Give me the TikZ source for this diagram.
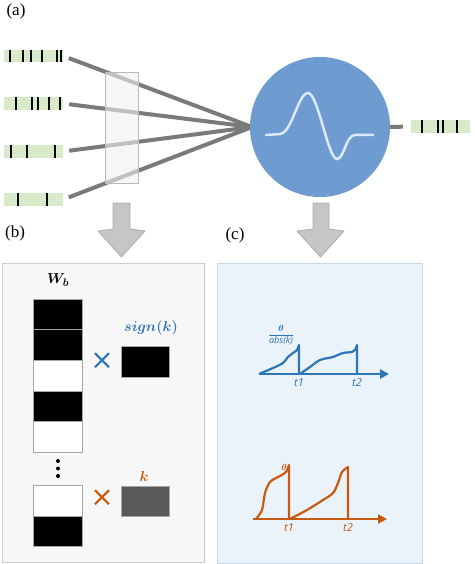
\documentclass[tikz,border=0pt]{standalone}
\usepackage{amsmath,bm}
\usepackage{fontspec}
\setmainfont{Liberation Serif}
\newfontfamily\plotfont{Open Sans}
\newfontfamily\crossfont{DejaVu Sans}[Scale=1]
\usetikzlibrary{arrows.meta}
\definecolor{neuronblue}{RGB}{110,155,208}
\definecolor{waveblue}{RGB}{220,233,248}
\definecolor{kblue}{RGB}{46,117,182}
\definecolor{korange}{RGB}{197,90,17}
\definecolor{spikegreen}{RGB}{217,234,203}
\definecolor{wiregray}{RGB}{122,122,122}
\definecolor{panelgray}{RGB}{247,247,247}
\definecolor{panelblue}{RGB}{234,242,250}
\tikzset{
  train/.style={fill=spikegreen,inner sep=0pt,minimum width=59pt,minimum height=12.5pt},
  spike/.style={line width=2pt,black},
  wire/.style={line width=4pt,wiregray},
  blockarrow/.style={fill=gray!45,draw=gray!65,line width=0.8pt,line join=round},
  panel/.style={inner sep=0pt,line width=1pt},
  cell/.style={draw=gray!70,line width=1pt,inner sep=0pt,minimum width=49pt,minimum height=30.6pt},
  tag/.style={font=\fontsize{17}{19}\selectfont},
  axislbl/.style={font=\plotfont\itshape\fontsize{11}{12}\selectfont,inner sep=1pt},
  trace/.style={line width=2.2pt,line join=round},
  times/.style={font=\crossfont\fontsize{28}{28}\selectfont,inner sep=0pt},
}
\begin{document}
\begin{tikzpicture}[x=1pt,y=-1pt]
\useasboundingbox (0,0) rectangle (474,564);
% (a) spiking neuron
\node[tag] (taga) at (16,11) {(a)};
\node[train] (in1) at (33.5,56) {};
\node[train] (in2) at (33.5,103.5) {};
\node[train] (in3) at (33.5,151.5) {};
\node[train] (in4) at (33.5,199.5) {};
\foreach \x in {10,23,31,42,57,61} \draw[spike] (\x,49.75) -- (\x,62.25);
\foreach \x in {16,32,38,49,60} \draw[spike] (\x,97.25) -- (\x,109.75);
\foreach \x in {11,27,55} \draw[spike] (\x,145.25) -- (\x,157.75);
\foreach \x in {18,47} \draw[spike] (\x,193.25) -- (\x,205.75);
\coordinate (hub) at (252,127);
\foreach \i in {1,...,4} \draw[wire,shorten <=6pt] (in\i.east) -- (hub);
\node[draw=gray!55,fill=gray!12,fill opacity=0.6,line width=1pt,minimum width=33pt,minimum height=110pt,inner sep=0pt] (wbox) at (121.5,128) {};
\node[circle,fill=neuronblue,minimum size=140pt,inner sep=0pt] (neuron) at (320,127) {};
\draw[waveblue,line width=2.5pt,line cap=round] (266,135) -- (280,134) .. controls (292,133) and (298,93) .. (308,93)
  .. controls (318,93) and (328,159) .. (337,159) .. controls (344,159) and (346,135) .. (355,135) -- (373,135);
\node[train,minimum height=13pt] (out) at (440.5,126.5) {};
\foreach \x in {422,438,443,457} \draw[spike] (\x,120) -- (\x,133);
\draw[wire,shorten >=8pt] (neuron.east) -- (out.west);
% block arrows
\draw[blockarrow] (113,203) -- (130,203) -- (130,229) -- (145,231) -- (121.5,257) -- (98,231) -- (113,229) -- cycle;
\draw[blockarrow] (313,203) -- (329,203) -- (329,229) -- (344,231) -- (320.5,257) -- (297,231) -- (313,229) -- cycle;
\node[tag] (tagb) at (15,233) {(b)};
\node[tag] (tagc) at (235,235) {(c)};
% (b) weights
\node[panel,draw=gray!40,fill=panelgray,minimum width=202pt,minimum height=299pt] (panelb) at (103,412.5) {};
\node (wlbl) at (58,280) {\fontsize{15}{17}\selectfont$\bm{W_b}$};
\foreach \y/\c [count=\i] in {314.5/black,345.1/black,375.7/white,406.3/black,436.9/white}
  \node[cell,fill=\c] (cell\i) at (57.5,\y) {};
\foreach \y/\c [count=\i] in {501/white,531.6/black} \node[cell,fill=\c] (low\i) at (57.5,\y) {};
\foreach \y [count=\i] in {461,468.5,476} \fill (58,\y) circle (2pt);
\node[times,kblue] (xa) at (102,361) {×};
\node[cell,fill=black,minimum width=48pt,minimum height=31pt] (sgnbox) at (145,361.5) {};
\node[kblue] (sgnlbl) at (151,328) {\fontsize{15}{17}\selectfont$\bm{sign(k)}$};
\node[times,korange] (xb) at (102,498) {×};
\node[cell,fill=black!65,minimum width=48pt,minimum height=30pt] (kbox) at (145,501) {};
\node[korange] (klbl) at (144,476) {\fontsize{15}{17}\selectfont$\bm{k}$};
% (c) membrane traces
\node[panel,draw=gray!35!kblue!30,fill=panelblue,minimum width=205pt,minimum height=300pt] (panelc) at (319.5,413) {};
\coordinate (ba) at (259,374);
\coordinate (bb) at (389,374);
\draw[kblue,trace,-{Triangle[length=9pt,width=9pt]}] (ba) -- (bb);
\draw[kblue,trace] plot[smooth] coordinates {(259,374) (273,368) (283,363) (288,357) (293,353) (297,350) (299,345)} -- (299,374);
\draw[kblue,trace] plot[smooth] coordinates {(300,374) (310,367) (320,360) (333,357) (343,353) (352,352) (355,350) (357,345)} -- (357,374);
\node[axislbl,kblue] (bt1) at (299,383) {t1};
\node[axislbl,kblue] (bt2) at (357,383) {t2};
\node[kblue,inner sep=0pt] (bth) at (281,335) {\fontsize{9}{10}\selectfont$\dfrac{\bm{\theta}}{\text{\plotfont\itshape abs(k)}}$};
\coordinate (oa) at (253,519);
\coordinate (ob) at (387,519);
\draw[korange,trace,-{Triangle[length=9pt,width=9pt]}] (oa) -- (ob);
\draw[korange,trace] plot[smooth] coordinates {(256,519) (262,510) (265,493) (270,482) (278,477) (285,473) (288,468) (289,465)} -- (289,519);
\draw[korange,trace] plot[smooth] coordinates {(290,519) (307,510) (323,500) (333,493) (338,483) (342,472) (348,467)} -- (348,519);
\node[axislbl,korange] (ot1) at (289,528) {t1};
\node[axislbl,korange] (ot2) at (348,528) {t2};
\node[korange,inner sep=0pt] (oth) at (284,467) {\fontsize{9}{9}\selectfont$\bm{\theta}$};
\end{tikzpicture}
\end{document}
